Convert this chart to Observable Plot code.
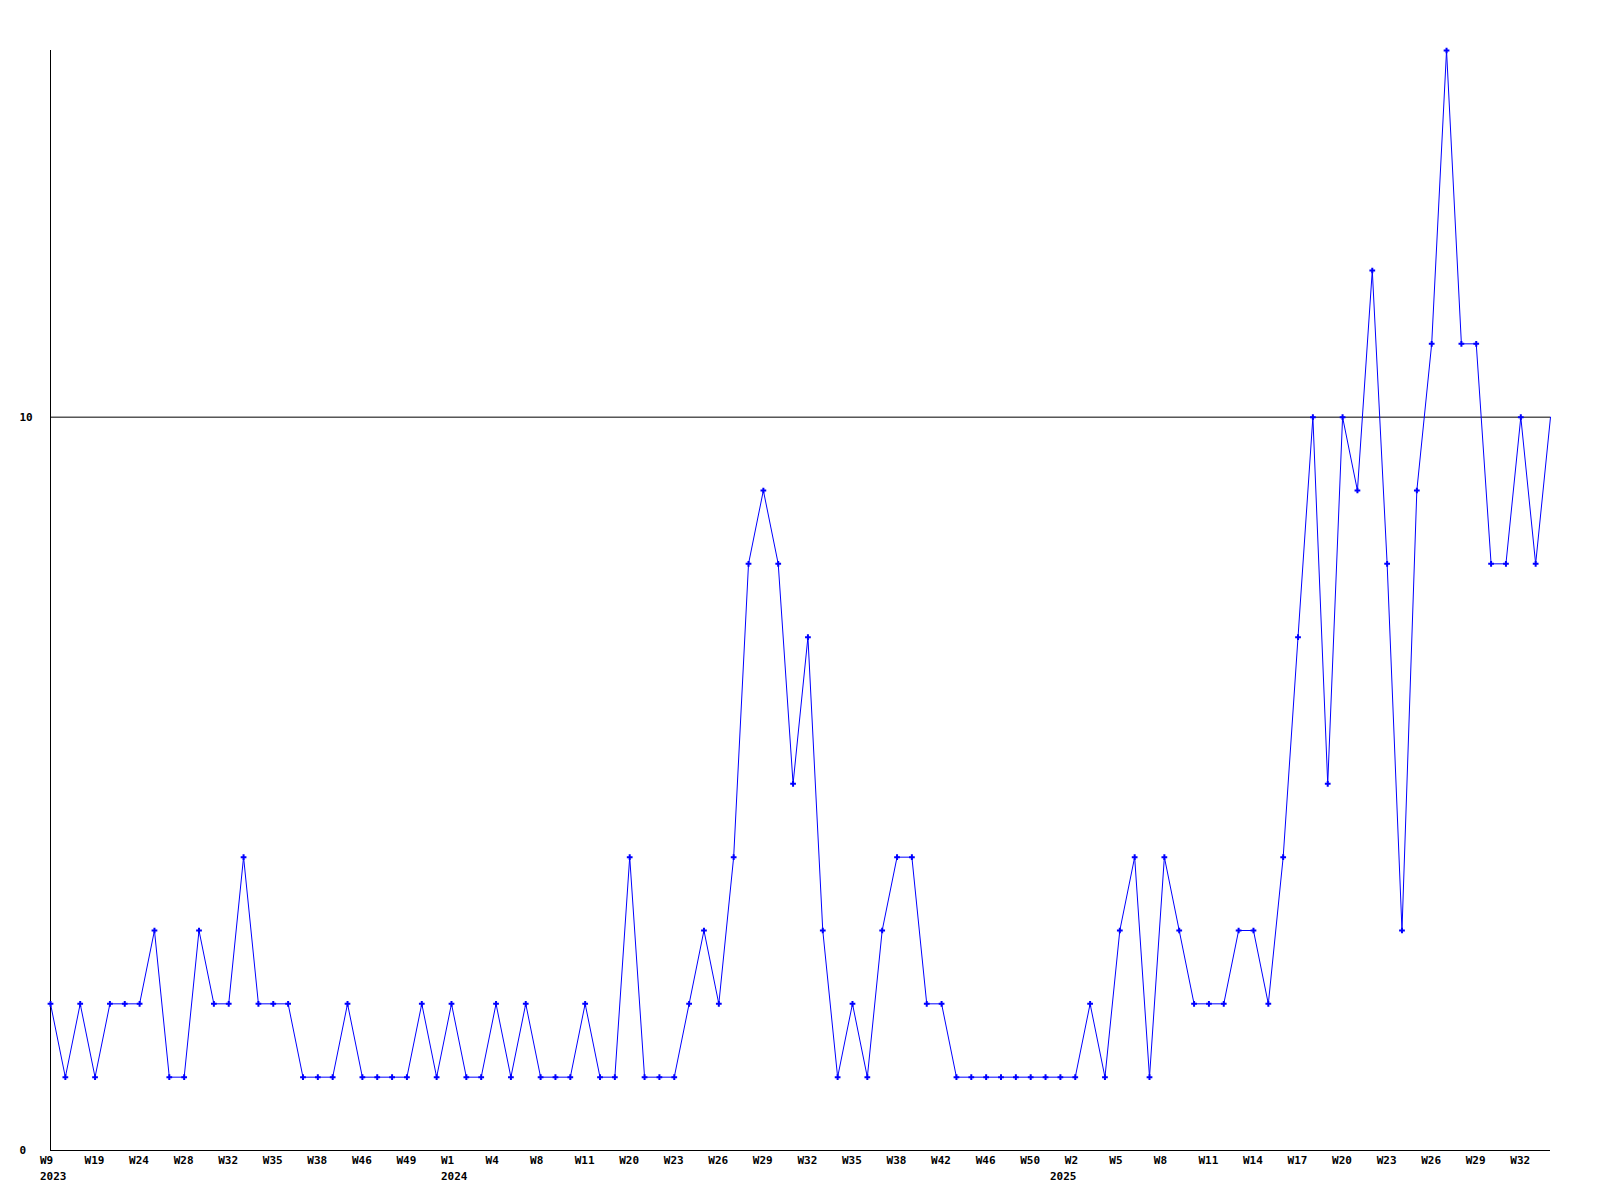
<!DOCTYPE html>
<html>
<head>
<meta charset="utf-8">
<script src="https://cdn.jsdelivr.net/npm/d3@7"></script>
<script src="https://cdn.jsdelivr.net/npm/@observablehq/plot@0.6"></script>
<style>
  html, body { margin: 0; padding: 0; background: #fff; }
</style>
</head>
<body>
<div id="chart"></div>
<script>
// Weekly counts (one value per point)
const values = [
  2, 1, 2, 1, 2, 2, 2, 3, 1, 1,
  3, 2, 2, 4, 2, 2, 2, 1, 1, 1,
  2, 1, 1, 1, 1, 2, 1, 2, 1, 1,
  2, 1, 2, 1, 1, 1, 2, 1, 1, 4,
  1, 1, 1, 2, 3, 2, 4, 8, 9, 8,
  5, 7, 3, 1, 2, 1, 3, 4, 4, 2,
  2, 1, 1, 1, 1, 1, 1, 1, 1, 1,
  2, 1, 3, 4, 1, 4, 3, 2, 2, 2,
  3, 3, 2, 4, 7, 10, 5, 10, 9, 12,
  8, 3, 9, 11, 15, 11, 11, 8, 8, 10,
  8, 10
];
// Week labels shown on every third point
const weekLabels = [
  "W9", "W19", "W24", "W28", "W32", "W35", "W38", "W46", "W49",
  "W1", "W4", "W8", "W11", "W20", "W23", "W26", "W29", "W32", "W35", "W38", "W42", "W46", "W50",
  "W2", "W5", "W8", "W11", "W14", "W17", "W20", "W23", "W26", "W29", "W32"
];
// Year labels and the point index where each year starts
const yearLabels = ["2023", "2024", "2025"];
const yearStartIndex = [0, 27, 68];
const yTicks = [0, 10];
const gridValues = [10];

const points = values.map((v, i) => ({i, v}));
const markerPoints = points.slice(0, points.length - 1);
const weekTicks = weekLabels.map((label, k) => ({i: k * 3, label}));
const yearTicks = yearLabels.map((label, k) => ({i: yearStartIndex[k], label}));

const font = {fontFamily: "'DejaVu Sans Mono', monospace", fontSize: 11, fontWeight: "bold", fill: "#000"};

const chart = Plot.plot({
  width: 1600,
  height: 1200,
  marginTop: 50,
  marginBottom: 50,
  marginLeft: 50,
  marginRight: 50,
  style: {fontFamily: "'DejaVu Sans Mono', monospace", fontSize: "11px", fontWeight: "bold", background: "#fff", color: "#000"},
  x: {type: "linear", domain: [0, values.length - 1], axis: null},
  y: {type: "linear", domain: [0, 15], axis: null},
  marks: [
    Plot.ruleY(gridValues, {stroke: "#000", strokeWidth: 1}),
    Plot.ruleY([0], {stroke: "#000", strokeWidth: 1}),
    Plot.ruleX([0], {stroke: "#000", strokeWidth: 1}),
    Plot.axisY({ticks: yTicks, tickSize: 0, tickPadding: 31, textAnchor: "start", label: null, tickFormat: d => String(d), ...font}),
    Plot.text(weekTicks, {x: "i", text: "label", frameAnchor: "bottom", dy: 13, textAnchor: "start", dx: -10.5, ...font}),
    Plot.text(yearTicks, {x: "i", text: "label", frameAnchor: "bottom", dy: 29, textAnchor: "start", dx: -10.5, ...font}),
    Plot.line(points, {x: "i", y: "v", stroke: "#0000ff", strokeWidth: 1}),
    Plot.dot(markerPoints, {x: "i", y: "v", symbol: "plus", r: 2, stroke: "#0000ff", strokeWidth: 2})
  ]
});
document.getElementById("chart").appendChild(chart);
</script>
</body>
</html>
